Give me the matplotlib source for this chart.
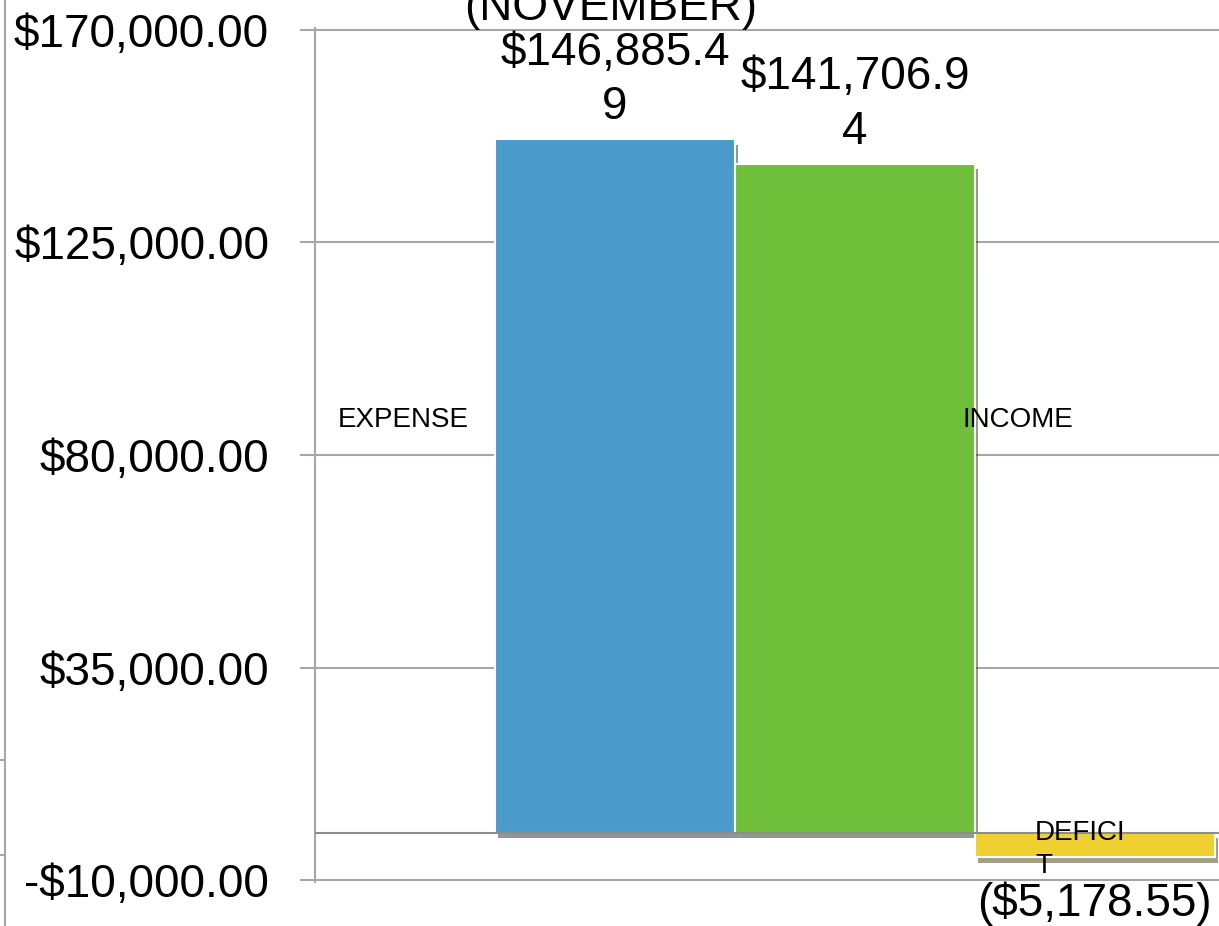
import matplotlib.pyplot as plt
import matplotlib.patheffects as pe
from matplotlib.lines import Line2D
from matplotlib.ticker import FuncFormatter

# -----------------------------
# DATA
# -----------------------------
categories = ["EXPENSE", "INCOME", "DEFICIT"]
cat_labels = ["EXPENSE", "INCOME", "DEFICI\nT"]
values = [146885.49, 141706.94, -5178.55]
value_labels = ["$146,885.4\n9", "$141,706.9\n4", "($5,178.55)"]
colors = ["#4A9BCB", "#70BF3A", "#F0CF30"]
y_ticks = [-10000, 35000, 80000, 125000, 170000]
title = "(NOVEMBER)"

plt.rcParams["font.family"] = ["Liberation Sans", "DejaVu Sans"]

W, H = 1219, 926
fig = plt.figure(figsize=(W / 100, H / 100), dpi=100)

# axes box in pixels: spine at x=315, y range -10000 (y=880) .. 170000 (y=30)
px_per_unit = 212.6 / 45000
pad = 2 / px_per_unit
ax = fig.add_axes([315 / W, (H - 882) / H, (W - 315) / W, 854 / H])
ax.set_ylim(-10000 - pad, 170000 + pad)
ax.set_xlim(-1.25, 2.517)

x = list(range(len(categories)))
bars = ax.bar(x, values, width=1.0, color=colors, edgecolor="white",
              linewidth=1.5, zorder=3)
for b in bars:
    b.set_path_effects([pe.SimplePatchShadow(offset=(2.5, -4), alpha=0.5),
                        pe.Normal()])

# gridlines + zero line
ax.set_yticks(y_ticks)
ax.yaxis.grid(True, color="#A6A6A6", linewidth=1.5, zorder=1)
ax.axhline(0, color="#8C8C8C", linewidth=1.5, zorder=4)
ax.yaxis.set_major_formatter(FuncFormatter(
    lambda v, p: f"-${abs(v):,.2f}" if v < 0 else f"${v:,.2f}"))
ax.tick_params(axis="y", length=11, width=1.5, color="#A6A6A6",
               labelsize=33, pad=22)
ax.set_xticks([])
for s in ["top", "right", "bottom"]:
    ax.spines[s].set_visible(False)
ax.spines["left"].set_color("#A6A6A6")
ax.spines["left"].set_linewidth(1.5)

# value labels
for i, (v, lab) in enumerate(zip(values, value_labels)):
    if v >= 0:
        ax.annotate(lab, (x[i], v), xytext=(0, 7), textcoords="offset points",
                    ha="center", va="bottom", fontsize=33, linespacing=1.32,
                    annotation_clip=False)
    else:
        ax.annotate(lab, (x[i], v), xytext=(0, -17.5), textcoords="offset points",
                    ha="center", va="top", fontsize=33, annotation_clip=False)

# category labels (placed where excel put them)
ax.text(-0.883, 87400, cat_labels[0], ha="center", va="center", fontsize=20, zorder=5)
ax.text(1.679, 87400, cat_labels[1], ha="center", va="center", fontsize=20, zorder=5)
ax.text(1.75, -3500, cat_labels[2], ha="left", va="center", fontsize=20,
        linespacing=1.36, zorder=5)

# clipped title
fig.text(611 / W, 1 - 20 / H, title, ha="center", va="baseline", fontsize=33)

# edge of neighbouring chart on the far left
fig.add_artist(Line2D([5 / W, 5 / W], [0, 1], color="#A6A6A6", linewidth=1.5))
for yy in [760, 855]:
    fig.add_artist(Line2D([0, 5 / W], [1 - yy / H] * 2, color="#A6A6A6", linewidth=1.5))

fig.savefig("out.png", dpi=100)
